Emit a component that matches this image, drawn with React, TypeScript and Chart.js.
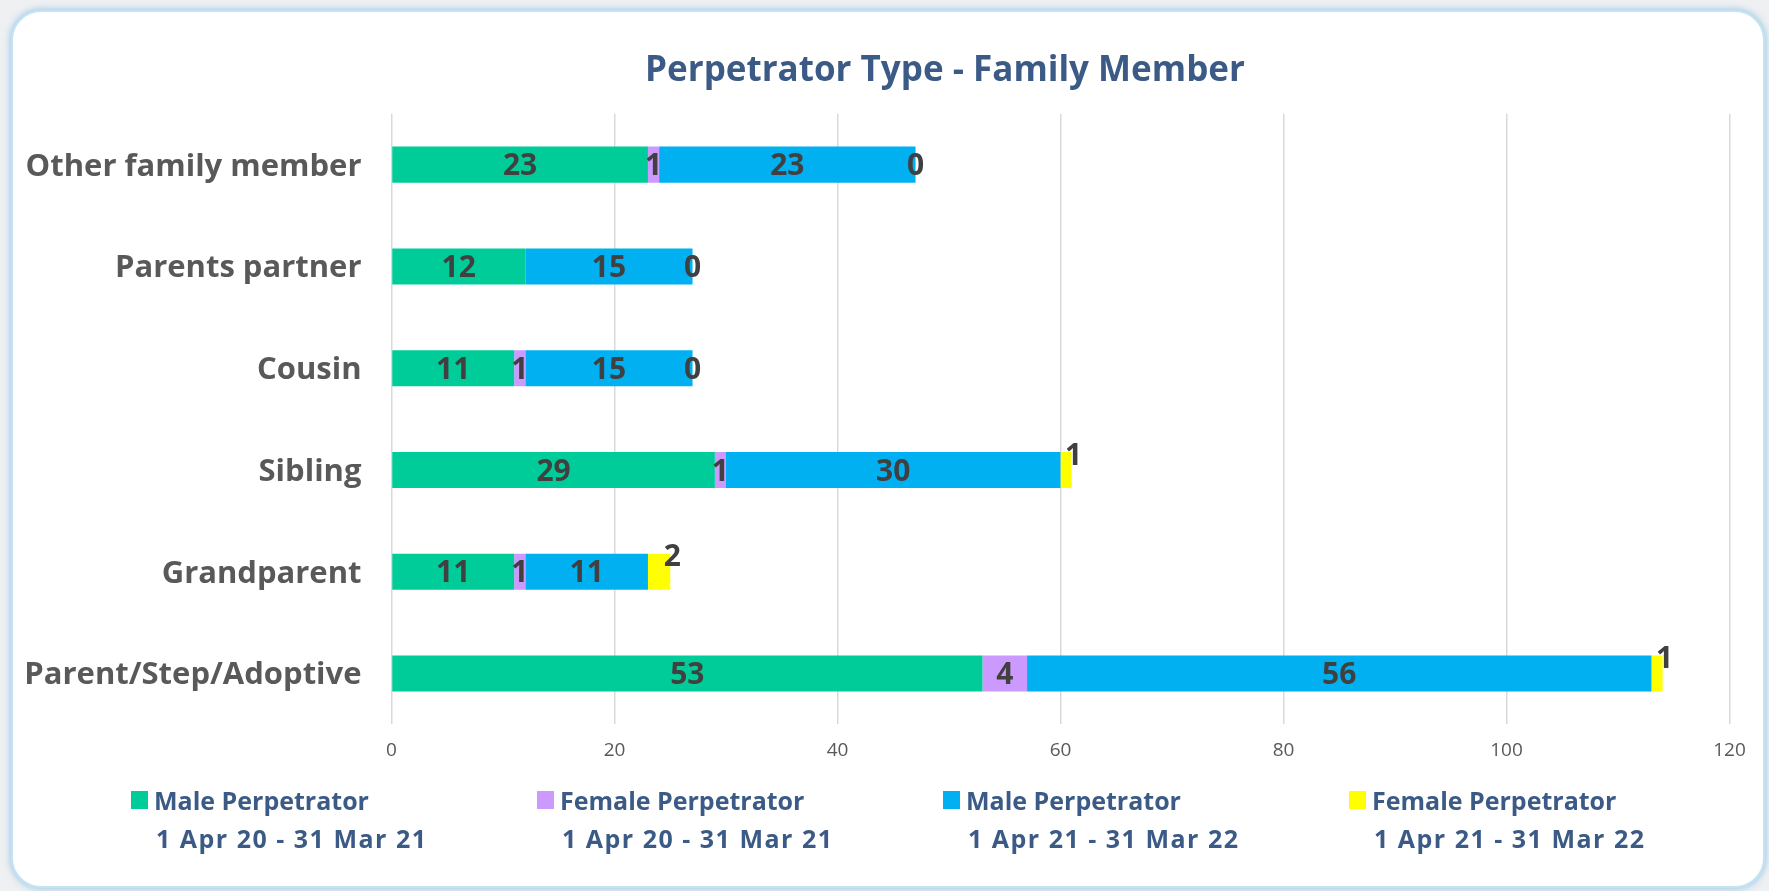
import React, { useEffect, useRef } from "react";
import { Chart, registerables } from "chart.js";

Chart.register(...registerables);

const categories = [
  "Other family member",
  "Parents partner",
  "Cousin",
  "Sibling",
  "Grandparent",
  "Parent/Step/Adoptive",
];
const maleApr20 = [23, 12, 11, 29, 11, 53];
const femaleApr20 = [1, null, 1, 1, 1, 4];
const maleApr21 = [23, 15, 15, 30, 11, 56];
const femaleApr21 = [0, 0, 0, 1, 2, 1];

const seriesLabels = [
  ["Male Perpetrator", "1 Apr 20 - 31 Mar 21"],
  ["Female Perpetrator", "1 Apr 20 - 31 Mar 21"],
  ["Male Perpetrator", "1 Apr 21 - 31 Mar 22"],
  ["Female Perpetrator", "1 Apr 21 - 31 Mar 22"],
];
const seriesColors = ["#00CC99", "#CC99FF", "#00B0F0", "#FFFF00"];
const xTicks = [0, 20, 40, 60, 80, 100, 120];
const titleText = "Perpetrator Type - Family Member";

const FONT = "'Open Sans', Lato, sans-serif";
const TITLE_COLOR = "#3B5B86";

const customPlugin = {
  id: "customDraw",
  afterDatasetsDraw(chart: any) {
    const ctx = chart.ctx;
    ctx.save();
    ctx.font = `bold 30px ${FONT}`;
    ctx.fillStyle = "#404040";
    ctx.textAlign = "center";
    ctx.textBaseline = "middle";
    const n = chart.data.datasets.length;
    chart.data.datasets.forEach((ds: any, di: number) => {
      const meta = chart.getDatasetMeta(di);
      meta.data.forEach((el: any, j: number) => {
        const v = ds.data[j];
        if (v === null || v === undefined) return;
        const end = el.x;
        const start = el.base;
        if (v === 0) {
          ctx.fillText(String(v), end, el.y + 2);
        } else if (di === n - 1) {
          ctx.fillText(String(v), end + 2, el.y - 14);
        } else {
          ctx.fillText(String(v), (start + end) / 2, el.y + 2);
        }
      });
    });
    ctx.restore();
  },
  afterDraw(chart: any) {
    const ctx = chart.ctx;
    ctx.save();
    // title
    ctx.font = `bold 35px ${FONT}`;
    ctx.fillStyle = TITLE_COLOR;
    ctx.textAlign = "center";
    ctx.textBaseline = "middle";
    ctx.fillText(titleText, 945, 71);
    // legend
    const startX = 131;
    const step = 406;
    ctx.textAlign = "left";
    chart.data.datasets.forEach((ds: any, i: number) => {
      const x = startX + i * step;
      ctx.fillStyle = ds.backgroundColor;
      ctx.fillRect(x, 791, 17, 18);
      ctx.fillStyle = TITLE_COLOR;
      const lines = seriesLabels[i];
      ctx.font = `bold 25px ${FONT}`;
      (ctx as any).letterSpacing = "0px";
      ctx.fillText(lines[0], x + 23, 803);
      (ctx as any).letterSpacing = "1.5px";
      ctx.fillText(lines[1], x + 25, 841);
      (ctx as any).letterSpacing = "0px";
    });
    ctx.restore();
  },
};

export default function App() {
  const ref = useRef<HTMLCanvasElement | null>(null);
  useEffect(() => {
    if (!ref.current) return;
    const chart = new Chart(ref.current, {
      type: "bar",
      data: {
        labels: categories,
        datasets: [maleApr20, femaleApr20, maleApr21, femaleApr21].map((d, i) => ({
          label: seriesLabels[i].join(" "),
          data: d as any,
          backgroundColor: seriesColors[i],
          borderWidth: 0,
          barPercentage: 0.355,
          categoryPercentage: 1,
        })),
      },
      options: {
        indexAxis: "y",
        animation: false,
        responsive: false,
        devicePixelRatio: 1,
        layout: { padding: { left: 0, right: 39.5, top: 113.8, bottom: 116.6 } },
        plugins: {
          legend: { display: false },
          title: { display: false },
          tooltip: { enabled: false },
        },
        scales: {
          x: {
            type: "linear",
            stacked: true,
            min: 0,
            max: 120,
            afterBuildTicks: (s: any) => {
              s.ticks = xTicks.map((v) => ({ value: v }));
            },
            afterFit: (s: any) => {
              s.height = 50;
            },
            ticks: {
              font: { family: FONT, size: 19 },
              color: "#595959",
              padding: 15,
            },
            grid: { color: "#D9D9D9", lineWidth: 1.5, drawTicks: false },
            border: { display: false },
          },
          y: {
            type: "category",
            stacked: true,
            afterFit: (s: any) => {
              s.width = 391.5;
            },
            ticks: {
              font: { family: FONT, size: 31, weight: "bold" },
              color: "#595959",
              padding: 30,
              labelOffset: 2,
            },
            grid: { display: false, drawTicks: false },
            border: { display: false },
          },
        },
      },
      plugins: [customPlugin],
    });
    return () => chart.destroy();
  }, []);

  return (
    <div
      style={{
        position: "fixed",
        left: 0,
        top: 0,
        width: 1769,
        height: 891,
        background: "#EEF0F2",
        overflow: "hidden",
      }}
    >
      <div
        style={{
          position: "absolute",
          left: 11,
          top: 10,
          width: 1750,
          height: 874,
          background: "#FFFFFF",
          border: "2px solid #C4E4F4",
          borderRadius: 30,
          boxShadow: "0 0 6px 1px rgba(90,170,220,0.55)",
        }}
      />
      <canvas
        ref={ref}
        width={1769}
        height={891}
        style={{ position: "absolute", left: 0, top: 0, width: 1769, height: 891 }}
      />
    </div>
  );
}
